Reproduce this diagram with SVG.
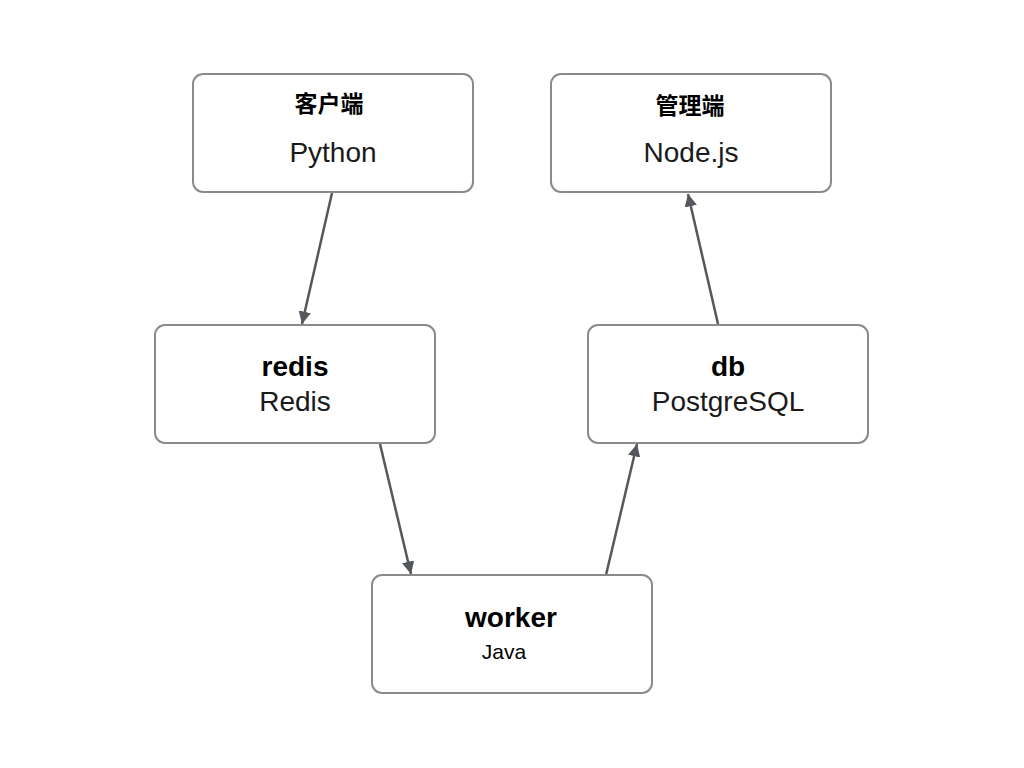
<svg xmlns="http://www.w3.org/2000/svg" width="1024" height="768" viewBox="0 0 1024 768">
<defs>
<marker id="arr" viewBox="0 0 10 10" refX="10" refY="5" markerWidth="5" markerHeight="5" markerUnits="strokeWidth" orient="auto">
<path d="M0,0 L10,5 L0,10 z" fill="#54575c"/>
</marker>
<style>
.box{fill:#fff;stroke:#8a8a8a;stroke-width:2}
.t{font-family:"Liberation Sans",Arial,sans-serif;font-weight:bold;font-size:28px;fill:#000;text-anchor:middle}
.tc{font-family:"Noto Sans CJK SC","Liberation Sans",sans-serif;font-weight:bold;font-size:23px;fill:#000;text-anchor:middle}
.s{font-family:"Liberation Sans",Arial,sans-serif;font-size:28px;fill:#1a1a1a;text-anchor:middle}
.j{font-family:"Liberation Sans",Arial,sans-serif;font-size:21px;fill:#000;text-anchor:middle}
.c{stroke:#54575c;stroke-width:2.5;fill:none;marker-end:url(#arr)}
</style>
</defs>
<rect width="1024" height="768" fill="#fff"/>
<g id="connectors">
<line class="c" x1="332" y1="193" x2="302" y2="324"/>
<line class="c" x1="380" y1="444" x2="411" y2="574"/>
<line class="c" x1="606" y1="575" x2="637" y2="444"/>
<line class="c" x1="718" y1="324" x2="688" y2="194"/>
</g>
<g id="client">
<rect class="box" x="193" y="74" width="280" height="118" rx="10"/>
<text class="tc" x="329" y="112">客户端</text>
<text class="s" x="333" y="162">Python</text>
</g>
<g id="admin">
<rect class="box" x="551" y="74" width="280" height="118" rx="10"/>
<text class="tc" x="690" y="114">管理端</text>
<text class="s" x="691" y="162">Node.js</text>
</g>
<g id="redis">
<rect class="box" x="155" y="325" width="280" height="118" rx="10"/>
<text class="t" x="295" y="376">redis</text>
<text class="s" x="295" y="411">Redis</text>
</g>
<g id="db">
<rect class="box" x="588" y="325" width="280" height="118" rx="10"/>
<text class="t" x="728" y="376">db</text>
<text class="s" x="728" y="411">PostgreSQL</text>
</g>
<g id="worker">
<rect class="box" x="372" y="575" width="280" height="118" rx="10"/>
<text class="t" x="511" y="627">worker</text>
<text class="j" x="504" y="659">Java</text>
</g>
</svg>
